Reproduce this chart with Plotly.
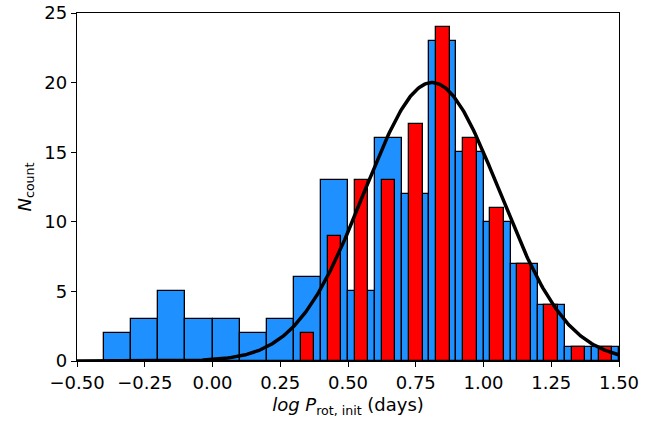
import numpy as np
import plotly.graph_objects as go

# Blue histogram: bins of width 0.1 from -0.4 to 1.5 (centres)
blue_centers = [-0.35, -0.25, -0.15, -0.05, 0.05, 0.15, 0.25, 0.35, 0.45, 0.55,
                0.65, 0.75, 0.85, 0.95, 1.05, 1.15, 1.25, 1.35, 1.45]
blue_counts = [2, 3, 5, 3, 3, 2, 3, 6, 13, 5, 16, 12, 23, 15, 10, 7, 4, 1, 1]

# Red histogram: same bins from 0.3 to 1.5, drawn narrower
red_centers = [0.35, 0.45, 0.55, 0.65, 0.75, 0.85, 0.95, 1.05, 1.15, 1.25, 1.35, 1.45]
red_counts = [2, 9, 13, 13, 17, 24, 16, 11, 7, 4, 1, 1]

# Gaussian fit parameters
fit_amp = 20.0
fit_mu = 0.81
fit_sigma = 0.25

x_ticks = [-0.5, -0.25, 0.0, 0.25, 0.5, 0.75, 1.0, 1.25, 1.5]
x_ticktext = ["\u22120.50", "\u22120.25", "0.00", "0.25", "0.50", "0.75", "1.00", "1.25", "1.50"]
y_ticks = [0, 5, 10, 15, 20, 25]

xs = np.linspace(-0.5, 1.5, 400)
ys = fit_amp * np.exp(-(xs - fit_mu) ** 2 / (2 * fit_sigma ** 2))

fig = go.Figure()
fig.add_trace(go.Bar(x=blue_centers, y=blue_counts, width=0.1,
                     marker=dict(color="#1E90FF", line=dict(color="black", width=1.3)),
                     showlegend=False))
fig.add_trace(go.Bar(x=red_centers, y=red_counts, width=0.05,
                     marker=dict(color="#FF0000", line=dict(color="black", width=1.3)),
                     showlegend=False))
fig.add_trace(go.Scatter(x=xs, y=ys, mode="lines",
                         line=dict(color="black", width=3.5), showlegend=False))

font = "DejaVu Sans"
fig.update_layout(
    width=665, height=422,
    margin=dict(l=77, r=46, t=13, b=61),
    paper_bgcolor="white", plot_bgcolor="white",
    barmode="overlay", bargap=0,
    font=dict(family=font, size=18, color="black"),
    xaxis=dict(range=[-0.5, 1.5], tickvals=x_ticks, ticktext=x_ticktext,
               automargin=False, ticklabeloverflow="allow",
               showgrid=False, zeroline=False, showline=True, mirror=True,
               linecolor="black", linewidth=1.3, ticks="outside", ticklen=5,
               tickwidth=1.3, tickcolor="black",
               title=dict(text="<i>log P</i><sub>rot, init</sub> (days)", standoff=6,
                          font=dict(size=18))),
    yaxis=dict(range=[0, 25], tickvals=y_ticks,
               automargin=False, ticklabeloverflow="allow",
               showgrid=False, zeroline=False, showline=True, mirror=True,
               linecolor="black", linewidth=1.3, ticks="outside", ticklen=5,
               tickwidth=1.3, tickcolor="black",
               title=dict(text="<i>N</i><sub>count</sub>", standoff=8,
                          font=dict(size=18))),
)

fig.write_html("out.html", config={"displayModeBar": False},
               post_script="document.body.style.margin='0';")
